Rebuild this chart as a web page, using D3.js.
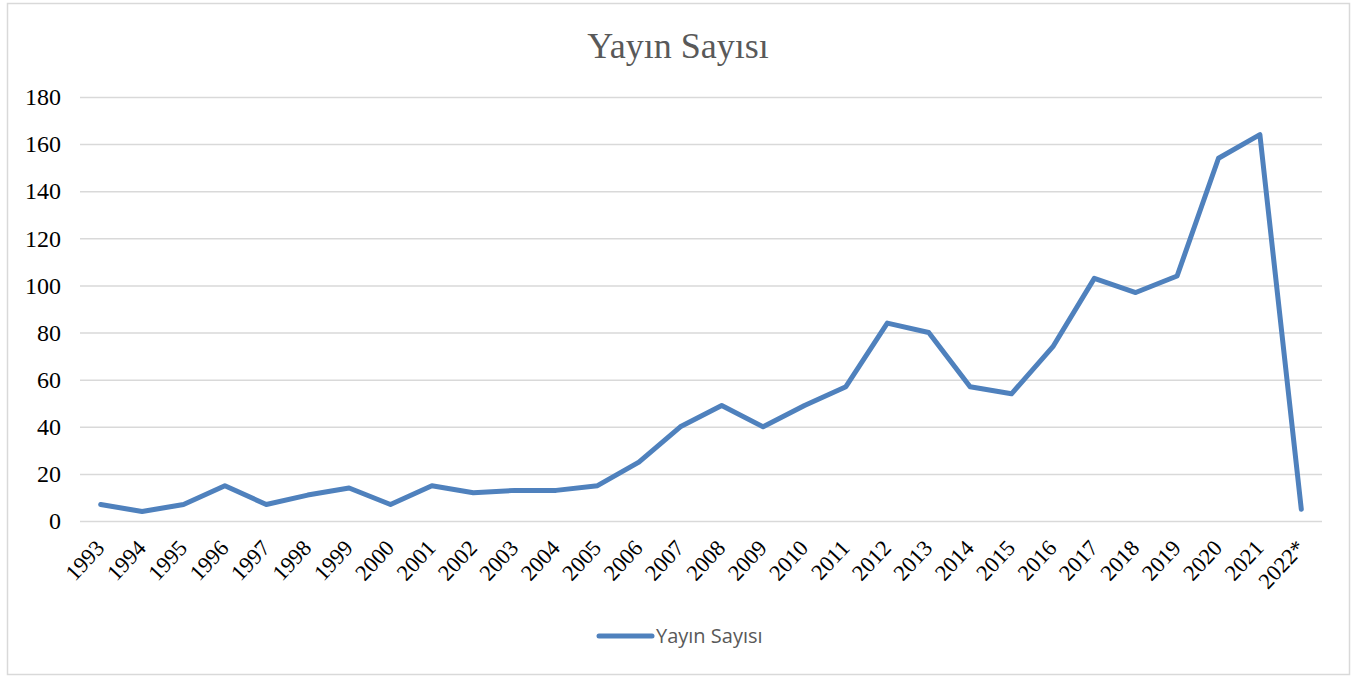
<!DOCTYPE html>
<html>
<head>
<meta charset="utf-8">
<script src="https://cdn.jsdelivr.net/npm/d3@7"></script>
<style>
  body { margin: 0; background: #fff; }
  svg { display: block; }
</style>
</head>
<body>
<div id="chart"></div>
<script>
const years = ['1993', '1994', '1995', '1996', '1997', '1998', '1999', '2000', '2001', '2002',
    '2003', '2004', '2005', '2006', '2007', '2008', '2009', '2010', '2011', '2012',
    '2013', '2014', '2015', '2016', '2017', '2018', '2019', '2020', '2021', '2022*'];
const counts = [7, 4, 7, 15, 7, 11, 14, 7, 15, 12,
    13, 13, 15, 25, 40, 49, 40, 49, 57, 84,
    80, 57, 54, 74, 103, 97, 104, 154, 164, 5];
const yTicks = [0, 20, 40, 60, 80, 100, 120, 140, 160, 180];
const seriesName = 'Yayın Sayısı';

const W = 1356, H = 677;
const margin = { top: 97, right: 34, bottom: 156, left: 80 };
const width = W - margin.left - margin.right;
const height = H - margin.top - margin.bottom;

const serif = '"Liberation Serif", "Times New Roman", serif';

const svg = d3.select('#chart').append('svg')
    .attr('width', W)
    .attr('height', H);

// chart frame
svg.append('rect')
    .attr('x', 7.5).attr('y', 3.5)
    .attr('width', 1342).attr('height', 671)
    .attr('fill', '#fff')
    .attr('stroke', '#d9d9d9')
    .attr('stroke-width', 1.5);

// title
svg.append('text')
    .attr('x', 678).attr('y', 58)
    .attr('text-anchor', 'middle')
    .attr('font-family', serif)
    .attr('font-size', 36)
    .attr('fill', '#595959')
    .text(seriesName);

const g = svg.append('g')
    .attr('transform', `translate(${margin.left},${margin.top})`);

const x = d3.scaleBand()
    .domain(years)
    .range([0, width]);

const y = d3.scaleLinear()
    .domain([0, 180])
    .range([height, 0]);

// Y axis with gridlines
const yAxis = g.append('g')
    .call(d3.axisLeft(y).tickValues(yTicks).tickSize(-width).tickPadding(19));
yAxis.select('.domain').remove();
yAxis.selectAll('.tick line')
    .attr('stroke', '#d9d9d9')
    .attr('stroke-width', 1.5);
yAxis.selectAll('.tick text')
    .attr('font-family', serif)
    .attr('font-size', 24)
    .attr('fill', '#000');

// X axis labels
const xAxis = g.append('g')
    .attr('transform', `translate(0,${height})`)
    .call(d3.axisBottom(x).tickSize(0).tickPadding(0));
xAxis.select('.domain').remove();
xAxis.selectAll('.tick text')
    .attr('font-family', serif)
    .attr('font-size', 22.5)
    .attr('fill', '#000')
    .attr('text-anchor', 'end')
    .attr('dy', 0)
    .attr('transform', 'translate(5,28) rotate(-47)');

// line
const line = d3.line()
    .x((d, i) => x(years[i]) + x.bandwidth() / 2)
    .y(d => y(d));

g.append('path')
    .datum(counts)
    .attr('fill', 'none')
    .attr('stroke', '#4f81bd')
    .attr('stroke-width', 5)
    .attr('stroke-linejoin', 'round')
    .attr('stroke-linecap', 'round')
    .attr('d', line);

// legend
const legend = svg.append('g').attr('transform', 'translate(597,636)');
legend.append('line')
    .attr('x1', 2).attr('x2', 55)
    .attr('y1', 0).attr('y2', 0)
    .attr('stroke', '#4f81bd')
    .attr('stroke-width', 5)
    .attr('stroke-linecap', 'round');
legend.append('text')
    .attr('x', 59).attr('y', 7)
    .attr('font-family', '"Open Sans", "Noto Sans", sans-serif')
    .attr('font-size', 20)
    .attr('fill', '#595959')
    .text(seriesName);
</script>
</body>
</html>
